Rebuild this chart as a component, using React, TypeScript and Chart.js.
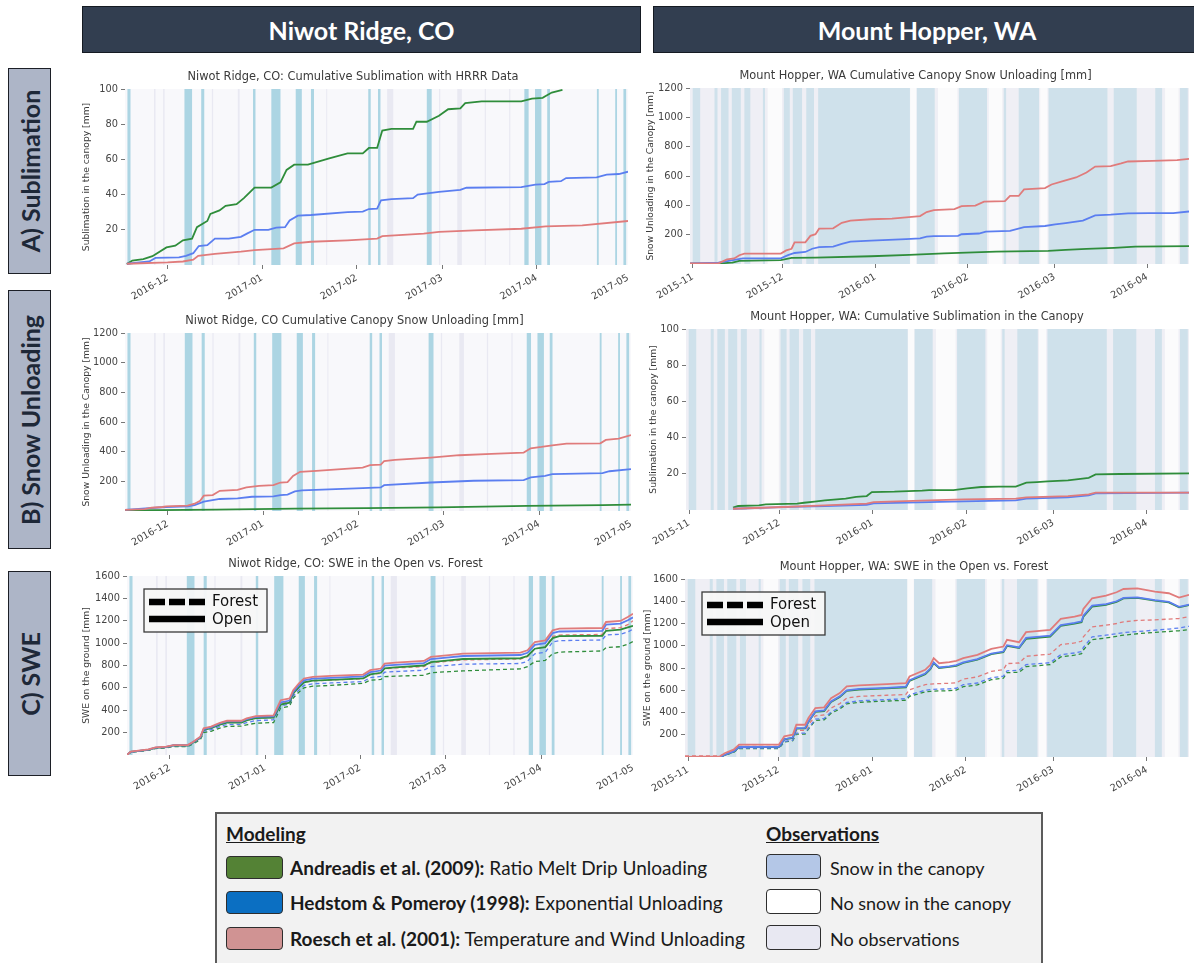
import { useEffect, useRef } from "react";
import { Chart, registerables } from "chart.js";

Chart.register(...registerables);

// ---- Time axes (x values are days since each season's start date) ----
const niwotStart = "2016-11-17";
const niwotEndDay = 165;
const niwotMonthLabels = ["2016-12", "2017-01", "2017-02", "2017-03", "2017-04", "2017-05"];

const hopperStart = "2015-10-31";
const hopperEndDay = 167;
const hopperMonthLabels = ["2015-11", "2015-12", "2016-01", "2016-02", "2016-03", "2016-04"];

// ---- Canopy observations: [startDay, endDay] ----
const niwotSnowInCanopy = [
  [0.8, 1.8], [19.5, 22], [25, 26], [42, 42.8], [48, 51], [56, 58], [61, 62],
  [79.8, 80.6], [83, 83.8], [99, 100.6], [131, 132.4], [134.5, 136.6], [138.5, 139.4],
  [154.8, 155.4], [160.8, 161.4], [163.5, 164.4],
];
const niwotNoObservations = [
  [9.5, 10], [12.5, 13], [28.5, 28.9], [37, 37.6], [66, 66.3], [86, 88], [103, 103.4],
  [109, 110.5], [118, 118.4], [126, 126.4],
];
const niwotNoSnow: number[][] = [];

const hopperSnowInCanopy = [
  [0.9, 3.4], [8.2, 9.2], [10.4, 12.9], [14, 17], [18.2, 20.2], [24.4, 25.1], [31.4, 33.4],
  [34.4, 37.5], [38.9, 41.5], [42.9, 73.6], [75.9, 81.9], [90, 99.4], [105, 105.8],
  [110, 116.8], [120, 139.7], [141.8, 149.5], [155.7, 158], [164, 166.6],
];
const hopperNoSnow = [
  [26, 30.8], [73.7, 75.8], [83, 89.5], [100, 104.5], [117.2, 119.6], [159, 163.5],
];

// ---- A) Niwot Ridge cumulative sublimation [mm]: [day, value] ----
const niwotSublAndreadis = [
  [0.6, 0.5], [2.4, 2.5], [6, 3.3], [9, 5], [13.6, 10], [16.5, 11], [19, 14], [22, 15],
  [23.6, 21.5], [27, 25], [28, 29], [31, 31], [33, 33.6], [36.6, 34.6], [39, 38], [42.5, 44],
  [48, 44], [51, 47], [53, 54], [55.5, 57], [60, 57], [67, 60.6], [73, 63.4], [78, 63.4],
  [80, 66.5], [82.7, 66.5], [84.4, 76.4], [87.4, 77.3], [94.5, 77.3], [95.6, 81.4], [99, 81.4],
  [103, 84.8], [106, 88.5], [110, 89], [111.6, 92], [117, 93], [130, 93], [133.5, 94.5],
  [137, 95], [138, 96], [140, 98], [143.5, 99.5],
];
const niwotSublHedstrom = [
  [0.6, 0.7], [8, 2], [10, 4], [17.7, 4.3], [20, 5.2], [22.4, 6.7], [24.2, 10.8], [27, 11.3],
  [29.5, 15], [34, 15], [38, 16], [40, 17.8], [42.5, 20], [47, 20], [49.6, 21.2], [52.5, 21.5],
  [54, 25.3], [56.7, 28], [61, 28.4], [73, 30], [78, 30.3], [80, 31.8], [82.7, 32], [84, 36.8],
  [87.4, 37.4], [94.5, 38], [96, 40], [103, 41.6], [110, 42.7], [112, 43.9], [130, 44.2],
  [134.6, 45.7], [137.6, 46], [139, 47.2], [143, 47.6], [144.7, 49.4], [154.7, 49.8],
  [158, 51.3], [162, 51.7], [165, 53],
];
const niwotSublRoesch = [
  [0.6, 0.7], [14, 1.5], [19, 2], [22.4, 3], [24, 5.2], [29.5, 6.3], [38, 7.6], [42.5, 8.5],
  [48, 9], [52, 9.5], [55.5, 12.3], [61, 13.2], [73, 14], [82.7, 15], [84.4, 16.4], [98, 17.8],
  [103, 18.8], [114.6, 19.7], [130, 20.6], [138, 22], [150, 22.5], [165, 25],
];

// ---- A) Mount Hopper cumulative canopy snow unloading [mm] ----
const hopperUnloadRoesch = [
  [0, 4], [9.5, 4], [12.4, 31], [14.8, 38], [16.5, 60], [18.2, 71], [30.4, 71], [32.2, 93],
  [34, 104], [35, 148], [38.6, 148], [40.3, 192], [42, 203], [43.2, 241], [47.9, 243],
  [50.8, 281], [53.7, 296], [60.6, 305], [67.6, 310], [72.3, 318], [77, 327], [79.2, 354],
  [81.6, 367], [88.5, 374], [90.9, 394], [95.5, 398], [98.4, 425], [105.4, 429], [107.1, 464],
  [110, 464], [111.8, 509], [118.8, 518], [121, 542], [125.1, 566], [129.2, 590], [132.7, 624],
  [135.6, 664], [140.8, 668], [144.3, 686], [146.6, 699], [154.8, 703], [163, 708], [167, 717],
];
const hopperUnloadHedstrom = [
  [0, 4], [9.5, 9], [13, 22], [17.7, 38], [30.4, 38], [32.8, 60], [35, 75], [38.6, 82],
  [40.9, 104], [43.2, 115], [47.9, 119], [50.8, 137], [53.7, 153], [60.6, 159], [72.3, 170],
  [77, 175], [79.2, 186], [81.6, 190], [89.7, 192], [90.9, 203], [96.7, 208], [99, 221],
  [107.1, 226], [111.8, 252], [118.8, 259], [122.2, 270], [125.7, 279], [131.5, 296],
  [135.6, 332], [140.8, 336], [146.6, 345], [153.6, 347], [161.7, 347], [167, 358],
];
const hopperUnloadAndreadis = [
  [0, 2], [9.5, 4], [14.2, 9], [16.5, 22], [30.4, 27], [34, 42], [42, 44], [60.6, 53],
  [73.4, 62], [85, 72], [102.5, 84], [119.9, 89], [125.7, 96], [132.7, 103], [142, 110],
  [149, 118], [167, 122],
];

// ---- B) Niwot Ridge cumulative canopy snow unloading [mm] ----
const niwotUnloadRoesch = [
  [0, 7], [6.4, 13], [8.7, 22], [12.2, 27], [13.4, 31], [20.4, 36], [22.7, 49], [24.5, 69],
  [25.7, 103], [28.6, 107], [30.9, 136], [36.7, 143], [39.6, 159], [43.7, 170], [48.4, 174],
  [50.7, 192], [53, 195], [54.8, 237], [57.1, 264], [62.4, 271], [77.5, 293], [79.9, 309],
  [83.4, 313], [84.5, 336], [88, 344], [99.7, 360], [109, 376], [119.5, 385], [130, 394],
  [132.3, 423], [135.8, 432], [139.3, 443], [144, 454], [155, 456], [156.8, 479], [161, 488],
  [165, 512],
];
const niwotUnloadHedstrom = [
  [0, 7], [13.4, 27], [20.4, 31], [22.7, 40], [25.7, 63], [30.9, 81], [36.7, 85], [41.4, 96],
  [48.4, 98], [50.7, 107], [53, 110], [55.4, 132], [57.7, 139], [77.5, 154], [83.4, 159],
  [84.5, 174], [99.7, 192], [113.7, 204], [130, 208], [132.3, 226], [137, 237], [139.3, 248],
  [155.7, 255], [158, 268], [165, 282],
];
const niwotUnloadAndreadis = [
  [0, 4], [29.7, 9], [55.4, 16], [78.7, 20], [102, 25], [131.2, 34], [155.7, 40], [165, 43],
];

// ---- B) Mount Hopper cumulative sublimation [mm] ----
const hopperSublAndreadis = [
  [15.6, 1.3], [17.3, 2.2], [24.2, 2.6], [26.5, 3.1], [36.9, 3.5], [39.2, 4], [42.7, 4.6],
  [46.1, 5.3], [53, 6.3], [56.5, 7.2], [60, 7.7], [61.7, 9.9], [69.2, 10.1], [78.4, 10.7],
  [80.7, 11], [88.8, 11], [93.4, 12], [98, 12.7], [103.8, 12.9], [109.5, 12.9], [113, 15.1],
  [116.5, 15.4], [120, 15.8], [126.8, 16.4], [133.7, 17.8], [136, 19.7], [144.1, 19.9],
  [167, 20.2],
];
const hopperSublRoesch = [
  [15.6, 0.7], [34.6, 1.8], [46.1, 2.6], [60, 3.5], [62.3, 4.4], [80.7, 5.3], [92.2, 5.9],
  [109.5, 6.3], [113, 7], [126.8, 7.7], [133.7, 8.6], [136, 9.6], [167, 9.6],
];
const hopperSublHedstrom = [
  [15.6, 0.7], [34.6, 1.7], [46.1, 2.2], [60, 2.9], [62.3, 3.7], [80.7, 4.4], [92.2, 4.8],
  [109.5, 5.3], [113, 6.3], [126.8, 7], [133.7, 8.1], [136, 9.2], [167, 9.6],
];

// ---- C) Niwot Ridge SWE on the ground [mm] ----
const niwotSweDays = [
  0, 1.2, 7, 9.3, 12.8, 15.2, 19.8, 21.6, 23.9, 25, 27.4, 30.3, 32.6, 37.3, 39, 42, 47.8, 50.1,
  53, 54.2, 56, 57.7, 60.6, 66.5, 77, 79.3, 82.8, 84, 87.5, 96.8, 99.1, 105, 109.6, 128.3, 130.6,
  133, 136.4, 138.8, 141, 155, 156.2, 160.9, 163.3, 165,
];
const niwotOpenRoesch = [
  0, 30, 50, 68, 74, 89, 89, 119, 163, 238, 253, 288, 306, 306, 327, 348, 354, 490, 505, 580, 639,
  684, 698, 707, 719, 758, 773, 817, 826, 841, 877, 892, 906, 915, 936, 1010, 1025, 1114, 1129,
  1135, 1189, 1198, 1233, 1263,
];
const niwotOpenHedstrom = [
  0, 28, 48, 66, 72, 87, 87, 116, 158, 232, 247, 282, 300, 300, 320, 340, 346, 470, 487, 565, 622,
  668, 682, 690, 702, 740, 755, 798, 806, 822, 858, 872, 885, 894, 914, 985, 1000, 1090, 1104,
  1110, 1165, 1174, 1205, 1230,
];
const niwotOpenAndreadis = [
  0, 27, 46, 64, 70, 85, 85, 112, 152, 225, 240, 272, 290, 290, 310, 330, 335, 450, 468, 550, 605,
  650, 665, 672, 684, 720, 735, 775, 784, 800, 830, 845, 858, 865, 885, 950, 965, 1045, 1062, 1066,
  1110, 1120, 1140, 1155,
];
const niwotForestRoesch = [
  0, 27, 47, 64, 70, 85, 85, 113, 155, 228, 240, 272, 290, 292, 310, 330, 336, 460, 476, 550, 605,
  650, 662, 670, 682, 718, 730, 770, 778, 790, 825, 838, 850, 858, 878, 950, 965, 1060, 1072, 1078,
  1130, 1138, 1165, 1200,
];
const niwotForestHedstrom = [
  0, 26, 44, 61, 67, 81, 81, 107, 146, 214, 226, 256, 272, 274, 290, 308, 314, 440, 455, 528, 580,
  622, 636, 644, 656, 692, 702, 740, 746, 758, 790, 802, 812, 818, 838, 905, 918, 1010, 1022, 1028,
  1072, 1080, 1100, 1125,
];
const niwotForestAndreadis = [
  0, 25, 42, 58, 63, 76, 76, 100, 136, 200, 212, 240, 256, 258, 270, 284, 290, 420, 435, 510, 560,
  600, 615, 622, 640, 668, 675, 700, 705, 712, 735, 745, 752, 770, 790, 835, 845, 905, 920, 930,
  960, 968, 990, 1015,
];

// ---- C) Mount Hopper SWE on the ground [mm] ----
const hopperSweDays = [
  0, 11.5, 13.3, 16.1, 17.9, 31.1, 32.9, 35.7, 36.9, 39.8, 40.9, 43.2, 46.1, 48.4, 51.3, 53.6,
  57.7, 66.9, 73.2, 74.4, 79.6, 81.3, 82.4, 84.2, 87.6, 89.9, 92.2, 96.9, 101.5, 105.5, 106.7,
  110.7, 113, 121, 124.5, 129.1, 131.4, 132, 134.9, 139.5, 143, 145.3, 149.9, 155.7, 160.3, 163.7,
  167,
];
const hopperOpenRoesch = [
  0, 5, 36, 66, 111, 111, 185, 200, 290, 290, 350, 440, 446, 529, 574, 634, 643, 655, 664, 724,
  784, 829, 888, 843, 852, 864, 888, 918, 972, 993, 1053, 1032, 1122, 1143, 1241, 1262, 1277, 1331,
  1427, 1451, 1481, 1510, 1516, 1487, 1472, 1433, 1457,
];
const hopperOpenHedstrom = [
  0, 0, 20, 50, 90, 92, 160, 175, 260, 262, 320, 410, 418, 500, 545, 600, 612, 622, 632, 690, 750,
  795, 850, 805, 815, 826, 850, 880, 930, 948, 1005, 985, 1070, 1090, 1185, 1205, 1220, 1270, 1360,
  1375, 1400, 1430, 1435, 1410, 1395, 1350, 1370,
];
const hopperOpenAndreadis = [
  0, 0, 18, 48, 88, 90, 158, 172, 255, 258, 316, 405, 412, 495, 540, 595, 606, 616, 626, 684, 744,
  790, 845, 800, 810, 820, 845, 875, 925, 942, 998, 980, 1062, 1082, 1178, 1198, 1212, 1262, 1352,
  1368, 1395, 1425, 1430, 1405, 1390, 1345, 1365,
];
const hopperForestRoesch = [
  10, 10, 28, 52, 95, 95, 160, 172, 240, 240, 290, 370, 378, 440, 480, 530, 545, 555, 562, 605,
  650, 655, 658, 660, 662, 668, 700, 720, 770, 785, 840, 845, 905, 925, 1010, 1025, 1040, 1080,
  1170, 1185, 1200, 1215, 1228, 1232, 1240, 1245, 1262,
];
const hopperForestHedstrom = [
  0, 0, 20, 45, 80, 80, 140, 152, 215, 215, 262, 340, 346, 405, 445, 490, 505, 516, 524, 560, 600,
  605, 608, 610, 612, 618, 650, 665, 712, 726, 775, 780, 830, 848, 920, 935, 948, 985, 1080, 1095,
  1108, 1118, 1128, 1140, 1150, 1160, 1175,
];
const hopperForestAndreadis = [
  0, 0, 18, 42, 76, 76, 134, 146, 206, 206, 252, 328, 334, 392, 432, 478, 492, 503, 510, 545, 585,
  590, 592, 594, 596, 602, 632, 648, 695, 708, 758, 762, 812, 830, 900, 915, 928, 962, 1055, 1070,
  1085, 1095, 1108, 1120, 1128, 1135, 1145,
];

// ---- Styling ----
const GREEN = "#2f8d3b";
const BLUE = "#5b7ef0";
const RED = "#e07b7b";
const TICK_FONT = { family: "DejaVu Sans", size: 9.8 };
const AXIS_TITLE_FONT = { family: "DejaVu Sans", size: 9.2 };
const TITLE_FONT = { family: "DejaVu Sans", size: 11.4, weight: "normal" as const, lineHeight: "14px" };

const dayOfMonth = (start: string, label: string) =>
  (Date.parse(label + "-01T00:00:00Z") - Date.parse(start + "T00:00:00Z")) / 86400000;

const zip = (days: number[], values: number[]) => days.map((d, i) => [d, values[i]]);

type Site = {
  start: string;
  endDay: number;
  months: string[];
  snow: number[][];
  clear: number[][];
  missing: number[][];
  base: string;
  snowColor: string;
  clearColor: string;
  missingColor: string;
};

const niwot: Site = {
  start: niwotStart, endDay: niwotEndDay, months: niwotMonthLabels,
  snow: niwotSnowInCanopy, clear: niwotNoSnow, missing: niwotNoObservations,
  base: "#f8f8fb", snowColor: "#acd5e3", clearColor: "#ffffff", missingColor: "#e9e9f2",
};
const hopper: Site = {
  start: hopperStart, endDay: hopperEndDay, months: hopperMonthLabels,
  snow: hopperSnowInCanopy, clear: hopperNoSnow, missing: [],
  base: "#efeff5", snowColor: "#cfe1eb", clearColor: "#fbfbfc", missingColor: "#efeff5",
};

type Line = { points: number[][]; color: string; dashed?: boolean };

type Panel = {
  site: Site;
  title: string;
  yTitle: string;
  yMax: number;
  yStep: number;
  lines: Line[];
  key?: boolean;
  left: number;
  top: number;
  width: number;
  plotHeight: number;
  yAxisWidth: number;
};

const TITLE_H = 20;
const XAXIS_H = 42;

function bandsPlugin(site: Site) {
  return {
    id: "canopyObservations",
    beforeDatasetsDraw(chart: any) {
      const { ctx, chartArea: a, scales } = chart;
      const x = scales.x;
      ctx.save();
      ctx.beginPath();
      ctx.rect(a.left, a.top, a.right - a.left, a.bottom - a.top);
      ctx.clip();
      ctx.fillStyle = site.base;
      ctx.fillRect(a.left, a.top, a.right - a.left, a.bottom - a.top);
      const paint = (ranges: number[][], color: string) => {
        ctx.fillStyle = color;
        ranges.forEach(([s, e]) => {
          const x0 = x.getPixelForValue(s);
          const x1 = x.getPixelForValue(e);
          ctx.fillRect(x0, a.top, Math.max(1, x1 - x0), a.bottom - a.top);
        });
      };
      paint(site.clear, site.clearColor);
      paint(site.missing, site.missingColor);
      paint(site.snow, site.snowColor);
      ctx.restore();
    },
  };
}

const forestOpenKey = {
  id: "forestOpenKey",
  afterDatasetsDraw(chart: any) {
    const { ctx, chartArea: a } = chart;
    const x = a.left + 17;
    const y = a.top + 13;
    const w = 123;
    const h = 43;
    ctx.save();
    ctx.fillStyle = "rgba(247,247,247,0.95)";
    ctx.fillRect(x, y, w, h);
    ctx.strokeStyle = "#3a3a3a";
    ctx.lineWidth = 1.3;
    ctx.strokeRect(x, y, w, h);
    ctx.strokeStyle = "#000";
    ctx.lineWidth = 6.5;
    ctx.setLineDash([16, 4]);
    ctx.beginPath();
    ctx.moveTo(x + 5, y + 13);
    ctx.lineTo(x + 61, y + 13);
    ctx.stroke();
    ctx.setLineDash([]);
    ctx.beginPath();
    ctx.moveTo(x + 5, y + 30);
    ctx.lineTo(x + 61, y + 30);
    ctx.stroke();
    ctx.fillStyle = "#111";
    ctx.font = "15px 'DejaVu Sans'";
    ctx.textBaseline = "middle";
    ctx.fillText("Forest", x + 68, y + 13);
    ctx.fillText("Open", x + 68, y + 31);
    ctx.restore();
  },
};

function PanelChart({ panel }: { panel: Panel }) {
  const ref = useRef<HTMLCanvasElement>(null);
  const height = TITLE_H + panel.plotHeight + XAXIS_H;
  useEffect(() => {
    const site = panel.site;
    const tickDays = site.months.map((m) => dayOfMonth(site.start, m));
    const chart = new Chart(ref.current as HTMLCanvasElement, {
      type: "line",
      data: {
        datasets: panel.lines.map((l) => ({
          data: l.points.map(([d, v]) => ({ x: d, y: v })),
          borderColor: l.color,
          borderWidth: l.dashed ? 1.3 : 1.8,
          borderDash: l.dashed ? [4, 3] : [],
          pointRadius: 0,
          tension: 0,
          fill: false,
        })),
      },
      options: {
        animation: false,
        responsive: false,
        events: [],
        layout: { padding: 0 },
        plugins: {
          legend: { display: false },
          tooltip: { enabled: false },
          title: {
            display: true,
            text: panel.title,
            color: "#3a3a3a",
            font: TITLE_FONT,
            padding: { top: 1, bottom: 5 },
          },
        },
        scales: {
          x: {
            type: "linear",
            min: 0,
            max: site.endDay,
            afterBuildTicks: (s: any) => {
              s.ticks = tickDays.map((v) => ({ value: v }));
            },
            afterFit: (s: any) => {
              s.height = XAXIS_H;
              s.paddingLeft = 0;
              s.paddingRight = 0;
            },
            ticks: {
              autoSkip: false,
              minRotation: 30,
              maxRotation: 30,
              padding: 3,
              color: "#444",
              font: TICK_FONT,
              callback: (v: any) => {
                const i = tickDays.findIndex((t) => Math.abs(t - Number(v)) < 0.01);
                return i >= 0 ? site.months[i] : "";
              },
            },
            grid: { display: true, drawOnChartArea: false, tickLength: 4, color: "#777" },
            border: { display: false },
          },
          y: {
            min: 0,
            max: panel.yMax,
            afterBuildTicks: (s: any) => {
              s.ticks = s.ticks.filter((t: any) => t.value !== 0);
            },
            afterFit: (s: any) => {
              s.width = panel.yAxisWidth;
              s.paddingTop = 0;
              s.paddingBottom = 0;
            },
            ticks: {
              stepSize: panel.yStep,
              padding: 3,
              color: "#444",
              font: TICK_FONT,
              callback: (v: any) => String(v),
            },
            title: {
              display: true,
              text: panel.yTitle,
              color: "#3a3a3a",
              font: AXIS_TITLE_FONT,
              padding: { top: 3, bottom: 0 },
            },
            grid: { display: true, drawOnChartArea: false, tickLength: 4, color: "#777" },
            border: { display: false },
          },
        },
      },
      plugins: panel.key ? [bandsPlugin(site), forestOpenKey] : [bandsPlugin(site)],
    } as any);
    return () => chart.destroy();
  }, [panel]);
  return (
    <canvas
      ref={ref}
      width={panel.width}
      height={height}
      style={{ position: "absolute", left: panel.left, top: panel.top - TITLE_H, width: panel.width, height }}
    />
  );
}

const panels: Panel[] = [
  {
    site: niwot,
    title: "Niwot Ridge, CO: Cumulative Sublimation with HRRR Data",
    yTitle: "Sublimation in the canopy [mm]",
    yMax: 100, yStep: 20,
    lines: [
      { points: niwotSublRoesch, color: RED },
      { points: niwotSublHedstrom, color: BLUE },
      { points: niwotSublAndreadis, color: GREEN },
    ],
    left: 78, top: 89, width: 550, plotHeight: 176, yAxisWidth: 47,
  },
  {
    site: hopper,
    title: "Mount Hopper, WA Cumulative Canopy Snow Unloading [mm]",
    yTitle: "Snow Unloading in the Canopy [mm]",
    yMax: 1200, yStep: 200,
    lines: [
      { points: hopperUnloadRoesch, color: RED },
      { points: hopperUnloadHedstrom, color: BLUE },
      { points: hopperUnloadAndreadis, color: GREEN },
    ],
    left: 642, top: 88, width: 547, plotHeight: 176, yAxisWidth: 48,
  },
  {
    site: niwot,
    title: "Niwot Ridge, CO Cumulative Canopy Snow Unloading [mm]",
    yTitle: "Snow Unloading in the Canopy [mm]",
    yMax: 1200, yStep: 200,
    lines: [
      { points: niwotUnloadRoesch, color: RED },
      { points: niwotUnloadHedstrom, color: BLUE },
      { points: niwotUnloadAndreadis, color: GREEN },
    ],
    left: 78, top: 333, width: 553, plotHeight: 178, yAxisWidth: 47,
  },
  {
    site: hopper,
    title: "Mount Hopper, WA: Cumulative Sublimation in the Canopy",
    yTitle: "Sublimation in the canopy [mm]",
    yMax: 100, yStep: 20,
    lines: [
      { points: hopperSublRoesch, color: RED },
      { points: hopperSublHedstrom, color: BLUE },
      { points: hopperSublAndreadis, color: GREEN },
    ],
    left: 645, top: 329, width: 544, plotHeight: 181, yAxisWidth: 41,
  },
  {
    site: niwot,
    title: "Niwot Ridge, CO: SWE in the Open vs. Forest",
    yTitle: "SWE on the ground [mm]",
    yMax: 1600, yStep: 200,
    lines: [
      { points: zip(niwotSweDays, niwotOpenRoesch), color: RED },
      { points: zip(niwotSweDays, niwotOpenHedstrom), color: BLUE },
      { points: zip(niwotSweDays, niwotOpenAndreadis), color: GREEN },
      { points: zip(niwotSweDays, niwotForestRoesch), color: RED, dashed: true },
      { points: zip(niwotSweDays, niwotForestHedstrom), color: BLUE, dashed: true },
      { points: zip(niwotSweDays, niwotForestAndreadis), color: GREEN, dashed: true },
    ],
    key: true,
    left: 78, top: 576, width: 555, plotHeight: 179, yAxisWidth: 49,
  },
  {
    site: hopper,
    title: "Mount Hopper, WA: SWE in the Open vs. Forest",
    yTitle: "SWE on the ground [mm]",
    yMax: 1600, yStep: 200,
    lines: [
      { points: zip(hopperSweDays, hopperOpenRoesch), color: RED },
      { points: zip(hopperSweDays, hopperOpenHedstrom), color: BLUE },
      { points: zip(hopperSweDays, hopperOpenAndreadis), color: GREEN },
      { points: zip(hopperSweDays, hopperForestRoesch), color: RED, dashed: true },
      { points: zip(hopperSweDays, hopperForestHedstrom), color: BLUE, dashed: true },
      { points: zip(hopperSweDays, hopperForestAndreadis), color: GREEN, dashed: true },
    ],
    key: true,
    left: 639, top: 579, width: 550, plotHeight: 178, yAxisWidth: 46,
  },
];

const HEADER_FONT = "Lato, 'Open Sans', sans-serif";

function ColumnHeader({ text, left, width }: { text: string; left: number; width: number }) {
  return (
    <div
      style={{
        position: "absolute", left, top: 6, width, height: 47, boxSizing: "border-box",
        background: "#323e50", border: "1.5px solid #151a22", color: "#fff",
        fontFamily: HEADER_FONT, fontWeight: 700, fontSize: 25,
        display: "flex", alignItems: "center", justifyContent: "center",
      }}
    >
      {text}
    </div>
  );
}

function RowLabel({ text, top, height }: { text: string; top: number; height: number }) {
  return (
    <div
      style={{
        position: "absolute", left: 8, top, width: 43, height, boxSizing: "border-box",
        background: "#adb5c7", border: "1.5px solid #1c1f26",
      }}
    >
      <div
        style={{
          position: "absolute", left: "50%", top: "50%", whiteSpace: "nowrap",
          transform: "translate(-50%, -50%) rotate(-90deg)",
          fontFamily: HEADER_FONT, fontWeight: 700, fontSize: 25, color: "#1e2838",
        }}
      >
        {text}
      </div>
    </div>
  );
}

const modelRows = [
  { color: "#548235", bold: "Andreadis et al. (2009):", rest: " Ratio Melt Drip Unloading" },
  { color: "#0b6fc2", bold: "Hedstom & Pomeroy (1998):", rest: " Exponential Unloading" },
  { color: "#d09393", bold: "Roesch et al. (2001):", rest: " Temperature and Wind Unloading" },
];
const observationRows = [
  { color: "#b4c7e7", text: "Snow in the canopy" },
  { color: "#ffffff", text: "No snow in the canopy" },
  { color: "#e8e8f2", text: "No observations" },
];

function BottomLegend() {
  const rowTops = [42, 77, 113];
  const text = {
    position: "absolute" as const, fontFamily: HEADER_FONT, fontSize: 19, color: "#1a1a1a",
    lineHeight: "24px", whiteSpace: "nowrap" as const,
  };
  return (
    <div
      style={{
        position: "absolute", left: 215, top: 812, width: 828, height: 170, boxSizing: "border-box",
        background: "#f2f2f2", border: "2px solid #5c5c5c",
      }}
    >
      <div style={{ ...text, left: 9, top: 8, fontWeight: 700, textDecoration: "underline" }}>Modeling</div>
      <div style={{ ...text, left: 549, top: 8, fontWeight: 700, textDecoration: "underline" }}>Observations</div>
      {modelRows.map((r, i) => (
        <div key={r.bold}>
          <div
            style={{
              position: "absolute", left: 9, top: rowTops[i], width: 57, height: 23, boxSizing: "border-box",
              background: r.color, border: "1.5px solid #2e2e2e", borderRadius: 4,
            }}
          />
          <div style={{ ...text, left: 73, top: rowTops[i] }}>
            <span style={{ fontWeight: 700 }}>{r.bold}</span>
            {r.rest}
          </div>
        </div>
      ))}
      {observationRows.map((r, i) => (
        <div key={r.text}>
          <div
            style={{
              position: "absolute", left: 549, top: rowTops[i] - 2, width: 55, height: 25, boxSizing: "border-box",
              background: r.color, border: "1.5px solid #2e2e2e", borderRadius: 4,
            }}
          />
          <div style={{ ...text, fontSize: 18, left: 613, top: rowTops[i] }}>{r.text}</div>
        </div>
      ))}
    </div>
  );
}

export default function App() {
  return (
    <div
      style={{
        position: "absolute", left: 0, top: 0, width: 1194, height: 963,
        overflow: "hidden", background: "#fff",
      }}
    >
      <ColumnHeader text="Niwot Ridge, CO" left={82} width={559} />
      <ColumnHeader text="Mount Hopper, WA" left={653} width={548} />
      <RowLabel text="A) Sublimation" top={68} height={206} />
      <RowLabel text="B) Snow Unloading" top={290} height={259} />
      <RowLabel text="C) SWE" top={571} height={205} />
      {panels.map((p) => (
        <PanelChart key={p.title} panel={p} />
      ))}
      <BottomLegend />
    </div>
  );
}
